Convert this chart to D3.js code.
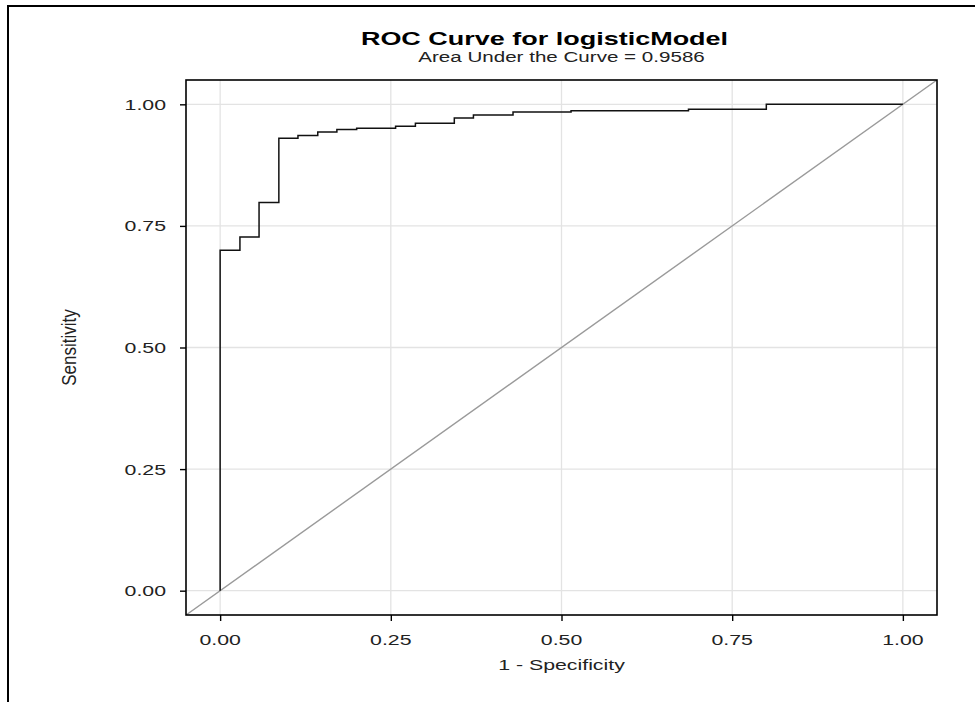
<!DOCTYPE html>
<html>
<head>
<meta charset="utf-8">
<script src="https://cdn.jsdelivr.net/npm/d3@7"></script>
<style>
  html, body { margin: 0; padding: 0; background: #fff; }
  svg { display: block; font-family: "Liberation Sans", Arial, sans-serif; }
</style>
</head>
<body>
<div id="chart"></div>
<script>
// ----------------------------------------
// DATA
// ----------------------------------------
const fpr = [0, 0, 0.029, 0.057, 0.086, 0.114, 0.143, 0.171, 0.2, 0.257, 0.286, 0.343, 0.371, 0.429, 0.514, 0.686, 0.8, 1];
const tpr = [0, 0.70, 0.727, 0.798, 0.930, 0.936, 0.943, 0.948, 0.951, 0.955, 0.961, 0.972, 0.978, 0.984, 0.987, 0.990, 1.0, 1.0];
const tickValues = [0, 0.25, 0.5, 0.75, 1];
const tickLabels = ["0.00", "0.25", "0.50", "0.75", "1.00"];
const titleText = "ROC Curve for logisticModel";
const subtitleText = "Area Under the Curve = 0.9586";
const xLabel = "1 - Specificity";
const yLabel = "Sensitivity";

const points = fpr.map((f, i) => ({ x: f, y: tpr[i] }));

// ----------------------------------------
// SETUP
// ----------------------------------------
const width = 975, height = 702;
const panel = { left: 186, right: 937, top: 80, bottom: 615 };
const stretch = 1.42; // horizontal text is drawn wide in the reference

const svg = d3.select("#chart")
  .append("svg")
  .attr("width", width)
  .attr("height", height);

const x = d3.scaleLinear().domain([-0.05, 1.05]).range([panel.left, panel.right]);
const y = d3.scaleLinear().domain([-0.05, 1.05]).range([panel.bottom, panel.top]);

// outer frame (top + left only)
svg.append("path")
  .attr("d", `M8,${height} V6 H${width}`)
  .attr("fill", "none")
  .attr("stroke", "#000")
  .attr("stroke-width", 2);

// ----------------------------------------
// GRID
// ----------------------------------------
const grid = svg.append("g").attr("stroke", "#e3e3e3").attr("stroke-width", 1.3);

grid.selectAll(".vg")
  .data(tickValues)
  .join("line")
  .attr("x1", d => x(d)).attr("x2", d => x(d))
  .attr("y1", panel.top).attr("y2", panel.bottom);

grid.selectAll(".hg")
  .data(tickValues)
  .join("line")
  .attr("class", "hg")
  .attr("x1", panel.left).attr("x2", panel.right)
  .attr("y1", d => y(d)).attr("y2", d => y(d));

// ----------------------------------------
// LINES
// ----------------------------------------
svg.append("clipPath")
  .attr("id", "clip")
  .append("rect")
  .attr("x", panel.left).attr("y", panel.top)
  .attr("width", panel.right - panel.left)
  .attr("height", panel.bottom - panel.top);

const plot = svg.append("g").attr("clip-path", "url(#clip)");

plot.append("line")
  .attr("x1", x(-0.05)).attr("y1", y(-0.05))
  .attr("x2", x(1.05)).attr("y2", y(1.05))
  .attr("stroke", "#9a9a9a")
  .attr("stroke-width", 1.4);

const line = d3.line()
  .x(d => x(d.x))
  .y(d => y(d.y))
  .curve(d3.curveStepAfter);

plot.append("path")
  .datum(points)
  .attr("fill", "none")
  .attr("stroke", "#111")
  .attr("stroke-width", 1.5)
  .attr("d", line);

// panel border
svg.append("rect")
  .attr("x", panel.left).attr("y", panel.top)
  .attr("width", panel.right - panel.left)
  .attr("height", panel.bottom - panel.top)
  .attr("fill", "none")
  .attr("stroke", "#000")
  .attr("stroke-width", 1.6);

// ----------------------------------------
// AXES
// ----------------------------------------
const xAxis = svg.append("g")
  .attr("transform", `translate(0,${panel.bottom})`)
  .call(d3.axisBottom(x).tickValues(tickValues).tickSize(6).tickFormat(""));
const yAxis = svg.append("g")
  .attr("transform", `translate(${panel.left},0)`)
  .call(d3.axisLeft(y).tickValues(tickValues).tickSize(6).tickFormat(""));

[xAxis, yAxis].forEach(a => {
  a.select(".domain").remove();
  a.selectAll(".tick line").attr("stroke", "#000").attr("stroke-width", 1.4);
});

const fmt = v => tickLabels[tickValues.indexOf(v)];

svg.selectAll(".xlab")
  .data(tickValues)
  .join("text")
  .attr("class", "xlab")
  .attr("transform", d => `translate(${x(d)},${panel.bottom + 30}) scale(${stretch},1)`)
  .attr("text-anchor", "middle")
  .attr("fill", "#222")
  .style("font-size", "15px")
  .text(fmt);

svg.selectAll(".ylab")
  .data(tickValues)
  .join("text")
  .attr("class", "ylab")
  .attr("transform", d => `translate(${panel.left - 20},${y(d) + 5.5}) scale(${stretch},1)`)
  .attr("text-anchor", "end")
  .attr("fill", "#222")
  .style("font-size", "15px")
  .text(fmt);

// ----------------------------------------
// TITLES
// ----------------------------------------
const cx = (panel.left + panel.right) / 2;

svg.append("text")
  .attr("transform", `translate(${cx - 17},45) scale(${stretch},1)`)
  .attr("text-anchor", "middle")
  .attr("fill", "#000")
  .style("font-size", "19px")
  .style("font-weight", "bold")
  .text(titleText);

svg.append("text")
  .attr("transform", `translate(${cx},62) scale(${stretch},1)`)
  .attr("text-anchor", "middle")
  .attr("fill", "#222")
  .style("font-size", "14.5px")
  .text(subtitleText);

svg.append("text")
  .attr("transform", `translate(${cx},670) scale(${stretch},1)`)
  .attr("text-anchor", "middle")
  .attr("fill", "#222")
  .style("font-size", "15px")
  .text(xLabel);

svg.append("text")
  .attr("transform", `translate(76,${(panel.top + panel.bottom) / 2}) rotate(-90) scale(1,1.15)`)
  .attr("text-anchor", "middle")
  .attr("fill", "#222")
  .style("font-size", "17px")
  .text(yLabel);
</script>
</body>
</html>
